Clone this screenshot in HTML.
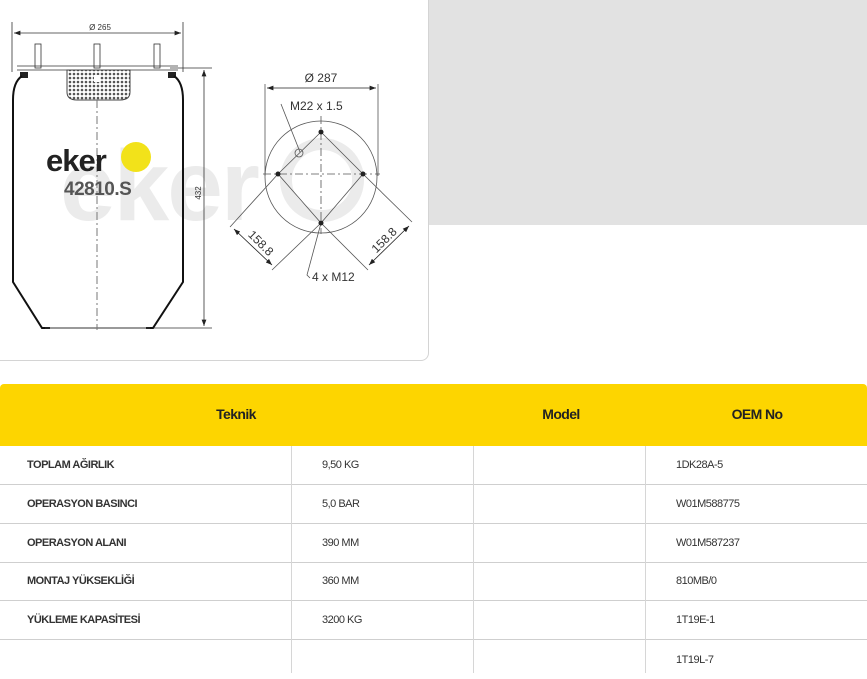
<!DOCTYPE html>
<html><head><meta charset="utf-8"><style>
body{margin:0;width:867px;height:673px;overflow:hidden;background:#fff;font-family:"Liberation Sans",sans-serif;position:relative}
.gray{position:absolute;left:429px;top:0;width:438px;height:225px;background:#e2e2e2}
.panel{position:absolute;left:-2px;top:-2px;width:429px;height:361px;border:1px solid #d4d4d4;border-radius:0 0 8px 0;background:#fff}
.hdr{position:absolute;left:0;top:384px;width:867px;height:62px;background:#fdd500;border-radius:4px 4px 0 0;font-weight:bold;font-size:14px;color:#222;letter-spacing:-0.6px}
.hdr span{position:absolute;top:22px;transform:translateX(-50%)}
.row{position:absolute;left:0;width:867px;height:38px;border-bottom:1px solid #cfcfcf;font-size:11px;color:#333;letter-spacing:-0.5px}
.row div{position:absolute;top:0;height:38px;line-height:38px}
.vl{position:absolute;top:446px;height:227px;width:1px;background:#d6d6d6}
</style></head><body>
<div class="gray"></div>
<div class="panel"></div>
<svg style="position:absolute;left:0;top:0" width="430" height="362">
<defs>
<pattern id="h" width="4" height="4" patternUnits="userSpaceOnUse"><rect width="4" height="4" fill="#fff"/><circle cx="2" cy="2" r="1.3" fill="#555"/></pattern>
<marker id="a" markerWidth="8" markerHeight="6" refX="8" refY="3" orient="auto-start-reverse"><path d="M0,0L8,3L0,6z" fill="#222"/></marker>
</defs>
<text x="60" y="220" font-size="100" font-weight="bold" fill="#ebebeb" letter-spacing="-2">eker</text>
<circle cx="322" cy="180" r="36" fill="none" stroke="#ebebeb" stroke-width="12"/>
<g stroke="#333" fill="none" stroke-width="0.8">
<line x1="12" y1="22" x2="12" y2="72"/><line x1="183" y1="22" x2="183" y2="72"/>
<line x1="14" y1="33" x2="181" y2="33" marker-start="url(#a)" marker-end="url(#a)"/>
<line x1="170" y1="68" x2="212" y2="68"/><line x1="150" y1="328" x2="212" y2="328"/>
<line x1="204" y1="70" x2="204" y2="326" marker-start="url(#a)" marker-end="url(#a)"/>
<rect x="35" y="44" width="6" height="24"/><rect x="94" y="44" width="6" height="24"/><rect x="154" y="44" width="6" height="24"/>
<line x1="17" y1="66" x2="178" y2="66"/><line x1="17" y1="70" x2="178" y2="70"/>
</g>
<path d="M20,72 L28,72 L28,78 L20,78Z M168,72 L176,72 L176,78 L168,78Z" fill="#222"/>
<path d="M22,76 Q13,82 13,100 L13,282 L42,328 L50,328 M174,76 Q183,82 183,100 L183,282 L153,328 L146,328" fill="none" stroke="#111" stroke-width="2"/>
<line x1="45" y1="328" x2="150" y2="328" stroke="#333"/>
<path d="M67,70 H130 V92 Q130,100 120,100 H77 Q67,100 67,92Z" fill="url(#h)" stroke="#444"/>
<rect x="94" y="75" width="6" height="7" fill="#fff"/>
<line x1="97" y1="100" x2="97" y2="330" stroke="#777" stroke-dasharray="8,3,2,3"/>
<text x="100" y="30" font-size="8" fill="#333" text-anchor="middle">Ø 265</text>
<text transform="translate(201,193) rotate(-90)" font-size="8" fill="#333" text-anchor="middle">432</text>
<text x="46" y="171" font-size="31" font-weight="bold" fill="#222" letter-spacing="-1">eker</text>
<circle cx="136" cy="157" r="15" fill="#f2e21a"/>
<text x="64" y="195" font-size="19" font-weight="bold" fill="#555" letter-spacing="-0.5">42810.S</text>
<g stroke="#555" fill="none" stroke-width="0.8">
<circle cx="321" cy="177" r="56"/>
<line x1="265" y1="84" x2="265" y2="176"/><line x1="378" y1="84" x2="378" y2="176"/>
<line x1="267" y1="88" x2="376" y2="88" stroke="#222" marker-start="url(#a)" marker-end="url(#a)"/>
<line x1="263" y1="174" x2="380" y2="174" stroke-dasharray="8,3,2,3"/>
<line x1="321" y1="116" x2="321" y2="234" stroke-dasharray="8,3,2,3"/>
<path d="M321,132 L278,174 L321,223 L363,174Z"/>
<line x1="278" y1="174" x2="230" y2="227"/><line x1="321" y1="223" x2="272" y2="270"/>
<line x1="363" y1="174" x2="412" y2="222"/><line x1="321" y1="223" x2="368" y2="270"/>
<line x1="234" y1="229" x2="272" y2="265" stroke="#222" marker-start="url(#a)" marker-end="url(#a)"/>
<line x1="409" y1="226" x2="369" y2="265" stroke="#222" marker-start="url(#a)" marker-end="url(#a)"/>
<polyline points="281,104 300,152"/><circle cx="299" cy="153" r="4"/>
<polyline points="321,223 307,275 310,278"/>
</g>
<g fill="#222"><circle cx="321" cy="132" r="2.5"/><circle cx="278" cy="174" r="2.5"/><circle cx="363" cy="174" r="2.5"/><circle cx="321" cy="223" r="2.5"/></g>
<text x="321" y="82" font-size="12" fill="#333" text-anchor="middle">Ø 287</text>
<text x="290" y="110" font-size="12" fill="#333">M22 x 1.5</text>
<text x="312" y="281" font-size="12" fill="#333">4 x M12</text>
<text transform="translate(258,246) rotate(45)" font-size="12" fill="#333" text-anchor="middle">158.8</text>
<text transform="translate(387,243) rotate(-45)" font-size="12" fill="#333" text-anchor="middle">158.8</text>
</svg>
<div class="hdr"><span style="left:236px">Teknik</span><span style="left:561px">Model</span><span style="left:757px">OEM No</span></div>
<div class="row" style="top:446px"><div style="left:27px;font-weight:bold">TOPLAM AĞIRLIK</div><div style="left:322px">9,50 KG</div><div style="left:676px">1DK28A-5</div></div>
<div class="row" style="top:485px"><div style="left:27px;font-weight:bold">OPERASYON BASINCI</div><div style="left:322px">5,0 BAR</div><div style="left:676px">W01M588775</div></div>
<div class="row" style="top:524px"><div style="left:27px;font-weight:bold">OPERASYON ALANI</div><div style="left:322px">390 MM</div><div style="left:676px">W01M587237</div></div>
<div class="row" style="top:562px"><div style="left:27px;font-weight:bold">MONTAJ YÜKSEKLİĞİ</div><div style="left:322px">360 MM</div><div style="left:676px">810MB/0</div></div>
<div class="row" style="top:601px"><div style="left:27px;font-weight:bold">YÜKLEME KAPASİTESİ</div><div style="left:322px">3200 KG</div><div style="left:676px">1T19E-1</div></div>
<div class="row" style="top:639px;border:none"><div style="left:676px;top:2px">1T19L-7</div></div>
<div class="vl" style="left:291px"></div><div class="vl" style="left:473px"></div><div class="vl" style="left:645px"></div>
</body></html>
